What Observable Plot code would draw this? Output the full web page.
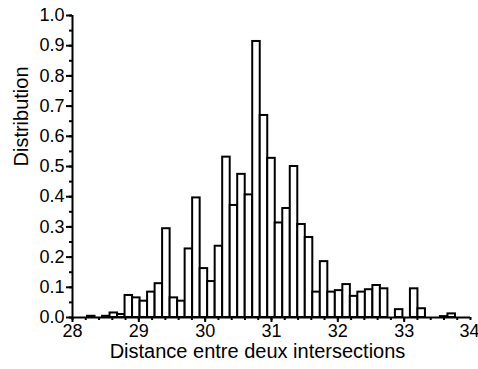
<!DOCTYPE html>
<html>
<head>
<meta charset="utf-8">
<script src="https://cdn.jsdelivr.net/npm/d3@7"></script>
<script src="https://cdn.jsdelivr.net/npm/@observablehq/plot@0.6"></script>
<style>
  html, body { margin: 0; padding: 0; background: white; }
</style>
</head>
<body>
<div id="chart"></div>
<script>
// Histogram: 53 equal bins between 28 and 34
const binStart = 28;
const binEnd = 34;
const binValues = [
  0, 0, 0.004, 0, 0.004, 0.015, 0.01,
  0.073, 0.065, 0.054, 0.084, 0.112, 0.294, 0.065, 0.054, 0.227, 0.396,
  0.162, 0.119, 0.236, 0.531, 0.371, 0.474, 0.406, 0.914, 0.669, 0.527,
  0.313, 0.361, 0.500, 0.308, 0.265, 0.084, 0.185, 0.084, 0.089, 0.109,
  0.070, 0.084, 0.092, 0.106, 0.095, 0, 0.026, 0, 0.095, 0.029,
  0, 0, 0.003, 0.012, 0, 0
];
const xMajorTicks = [28, 29, 30, 31, 32, 33, 34];
const yMajorTicks = [0, 0.1, 0.2, 0.3, 0.4, 0.5, 0.6, 0.7, 0.8, 0.9, 1.0];
const xTitle = "Distance entre deux intersections";
const yTitle = "Distribution";

const binWidth = (binEnd - binStart) / binValues.length;
const bins = binValues.map((v, i) => ({
  x1: binStart + i * binWidth,
  x2: binStart + (i + 1) * binWidth,
  y: v
}));
const xMinorTicks = d3.range(binStart, binEnd + 1e-9, 0.2);
const yMinorTicks = d3.range(0, 1.0001, 0.05);
const lastTick = xMajorTicks[xMajorTicks.length - 1];

const chart = Plot.plot({
  width: 478,
  height: 369,
  marginLeft: 72,
  marginRight: 8,
  marginTop: 15,
  marginBottom: 52,
  style: {fontFamily: "'Liberation Sans', Arial, sans-serif", fontSize: "18px", color: "black", background: "white"},
  x: {domain: [28, 34]},
  y: {domain: [0, 1]},
  marks: [
    Plot.rectY(bins, {x1: "x1", x2: "x2", y: "y", fill: "white", stroke: "black", strokeWidth: 2}),
    Plot.axisX({ticks: xMinorTicks, tickSize: 3, text: null, strokeWidth: 2, label: null}),
    Plot.axisX({ticks: xMajorTicks.slice(0, -1), tickSize: 5, tickPadding: 2, tickFormat: d => String(d), fontSize: 18, strokeWidth: 2, label: null}),
    Plot.axisX({ticks: [lastTick], tickSize: 5, tickPadding: 2, tickFormat: d => String(d), fontSize: 18, strokeWidth: 2, label: null, textAnchor: "end", dx: 9}),
    Plot.axisY({ticks: yMinorTicks, tickSize: 3, text: null, strokeWidth: 2, label: null}),
    Plot.axisY({ticks: yMajorTicks, tickSize: 6, tickPadding: 2, tickFormat: d3.format(".1f"), fontSize: 18, strokeWidth: 2, label: null}),
    Plot.ruleY([0], {strokeWidth: 2}),
    Plot.ruleX([28], {strokeWidth: 2}),
    Plot.text([xTitle], {frameAnchor: "bottom", dy: 40, dx: -14, fontSize: 20, fill: "black"}),
    Plot.text([yTitle], {frameAnchor: "left", dx: -51, rotate: -90, fontSize: 20, fill: "black"})
  ]
});
document.getElementById("chart").appendChild(chart);
</script>
</body>
</html>
